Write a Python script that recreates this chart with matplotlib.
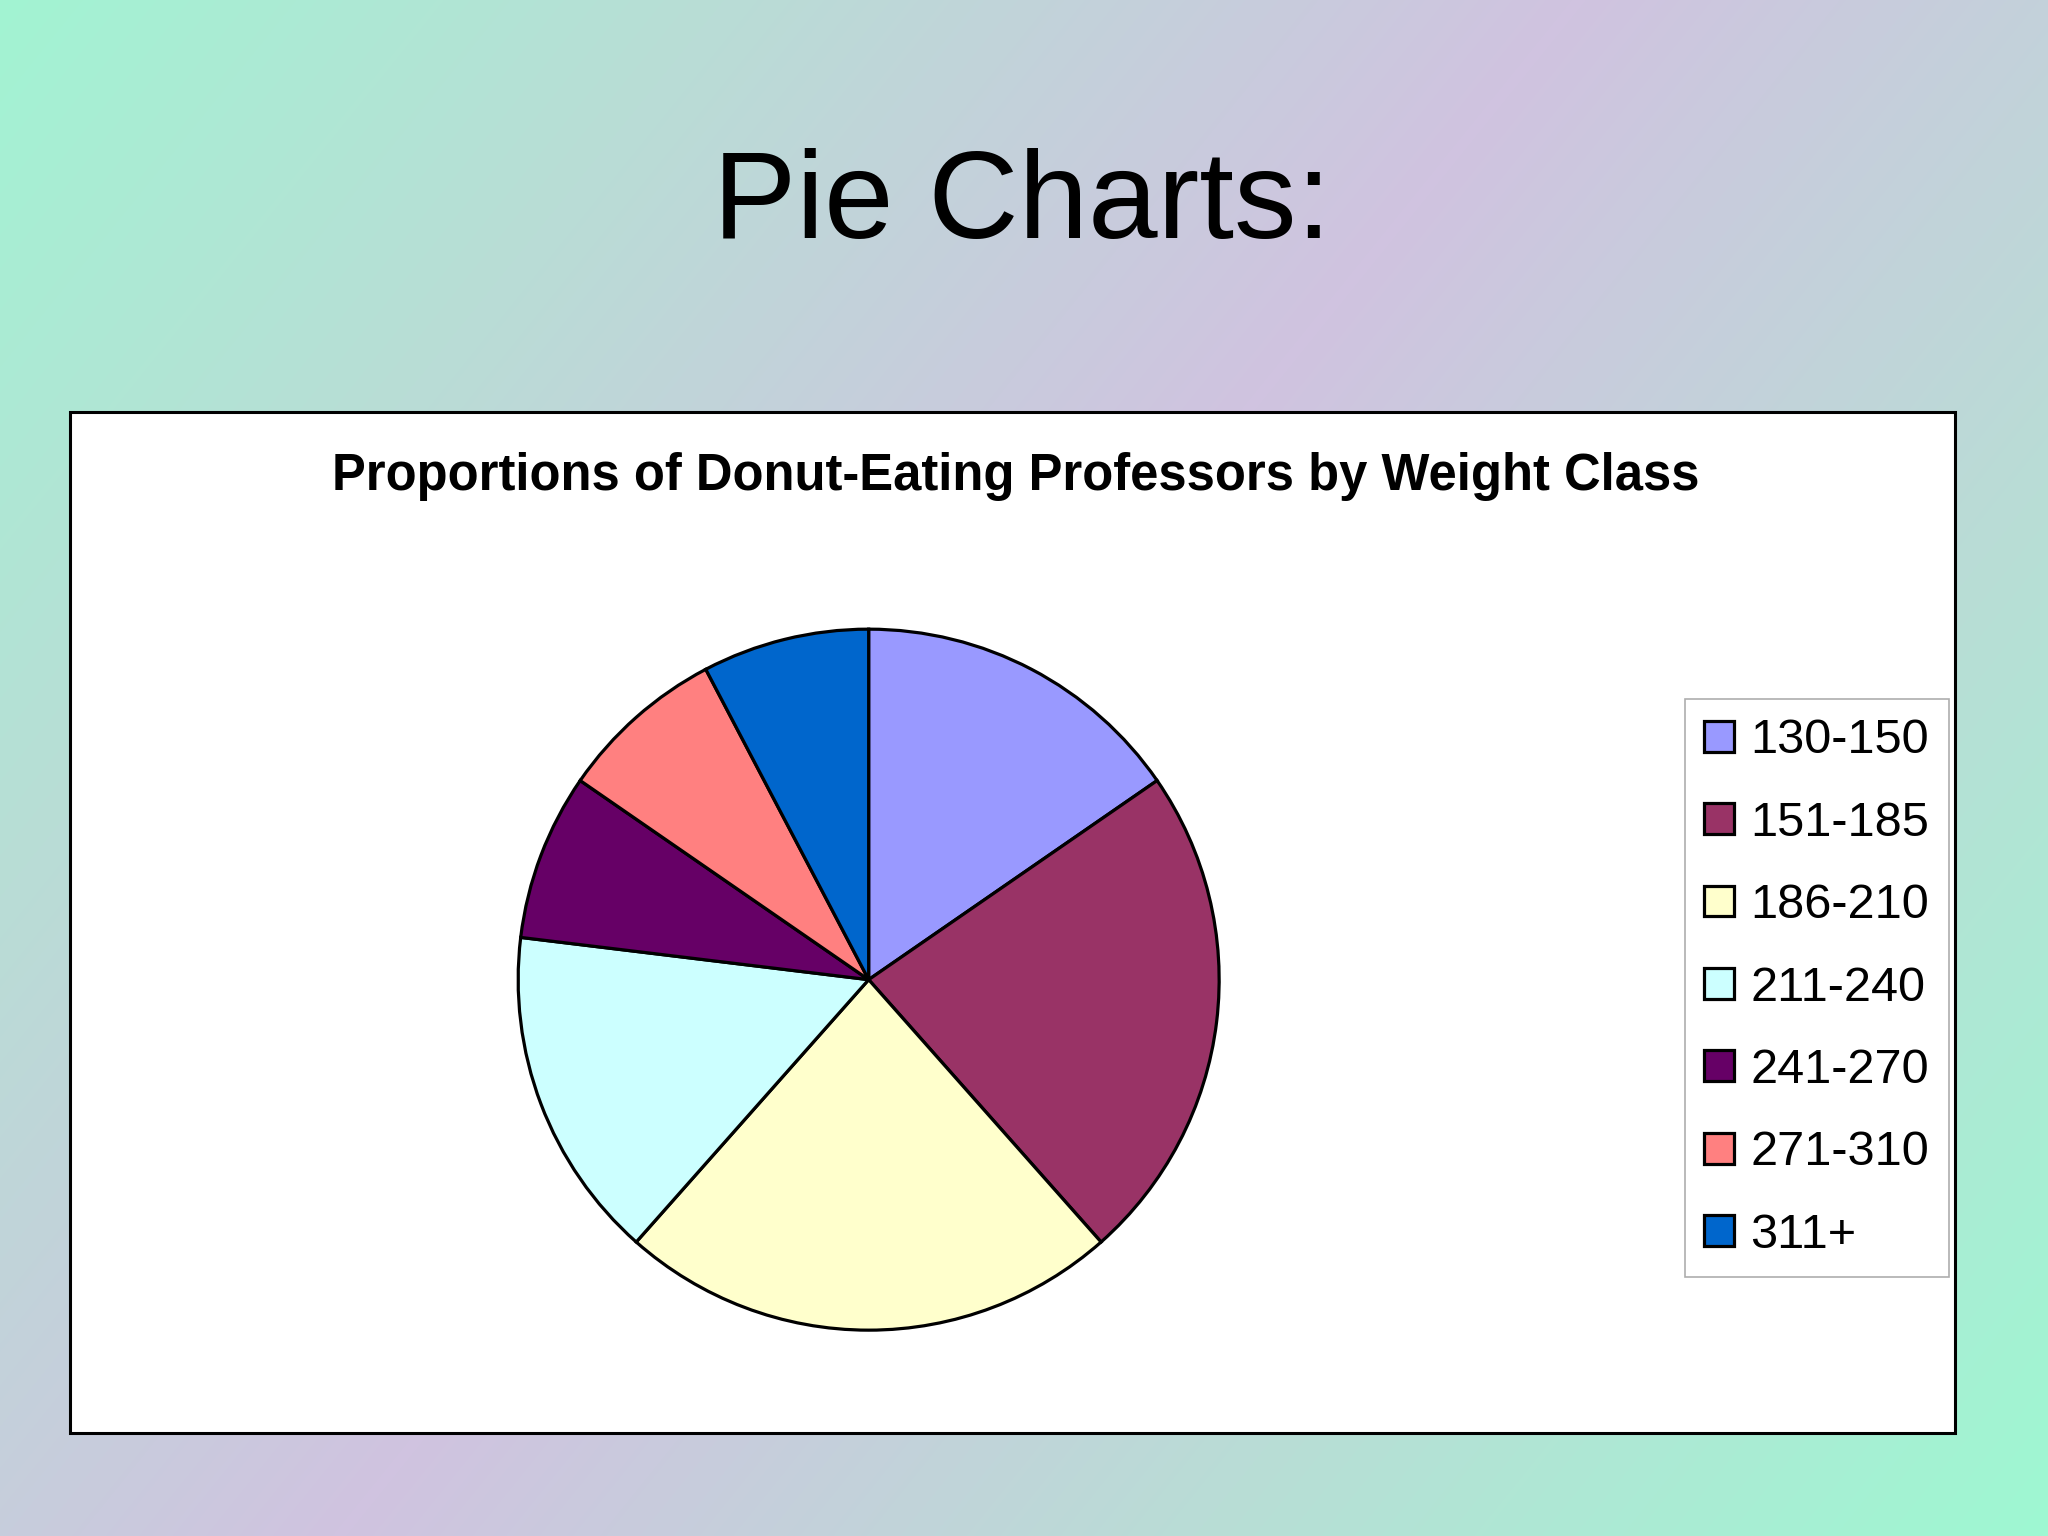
import matplotlib
matplotlib.use("Agg")
import matplotlib.pyplot as plt
import numpy as np
from matplotlib.colors import LinearSegmentedColormap
from matplotlib.patches import Rectangle

plt.rcParams["font.family"] = ["Liberation Sans", "DejaVu Sans"]

# weight classes and counts
labels = ["130-150", "151-185", "186-210", "211-240", "241-270", "271-310", "311+"]
counts = [2, 3, 3, 2, 1, 1, 1]
colors = ["#9999FF", "#993366", "#FFFFCC", "#CCFFFF", "#660066", "#FF8080", "#0066CC"]

slide_title = "Pie Charts:"
chart_title = "Proportions of Donut-Eating Professors by Weight Class"

W, H = 2048, 1536
fig = plt.figure(figsize=(W / 100, H / 100), dpi=100)

# diagonal slide background: green -> lavender -> green
bg = fig.add_axes([0, 0, 1, 1], zorder=-10)
yy, xx = np.mgrid[0:H, 0:W]
u = (xx * 0.778 + yy * 0.628) / (W * 0.778 + H * 0.628)
t = 1 - np.abs(u - 0.48) / 0.52
cmap = LinearSegmentedColormap.from_list("slide", ["#9ef8d2", "#b9ddd6", "#d0c3e0"])
bg.imshow(t, cmap=cmap, aspect="auto", extent=[0, 1, 0, 1], origin="upper", vmin=0, vmax=1)
bg.set_axis_off()

fig.text(0.499, 0.866, slide_title, ha="center", va="center", fontsize=90)

# white chart area
fig.patches.append(Rectangle((0.0344, 0.067), 0.9203, 0.665, transform=fig.transFigure,
                             facecolor="white", edgecolor="black", linewidth=2.2, zorder=1))
fig.text(0.496, 0.690, chart_title, ha="center", va="center", fontsize=36.5,
         fontweight="bold", zorder=2)

ax = fig.add_axes([0.2513, 0.1317, 0.3457, 0.461], zorder=3)
wedges, _ = ax.pie(counts, colors=colors, startangle=90, counterclock=False,
                   wedgeprops=dict(edgecolor="black", linewidth=2.3))
ax.set_xlim(-1.01, 1.01)
ax.set_ylim(-1.01, 1.01)
ax.set_aspect("equal")

leg = fig.legend(wedges, labels, loc="upper left", bbox_to_anchor=(0.8227, 0.545),
                 borderaxespad=0, fontsize=35, frameon=True, fancybox=False,
                 edgecolor="#999999", handlelength=0.6, handleheight=0.6,
                 handletextpad=0.35, labelspacing=0.77, borderpad=0.4)
leg.get_frame().set_linewidth(1.2)
leg.set_zorder(4)

fig.savefig("out.png", dpi=100)
